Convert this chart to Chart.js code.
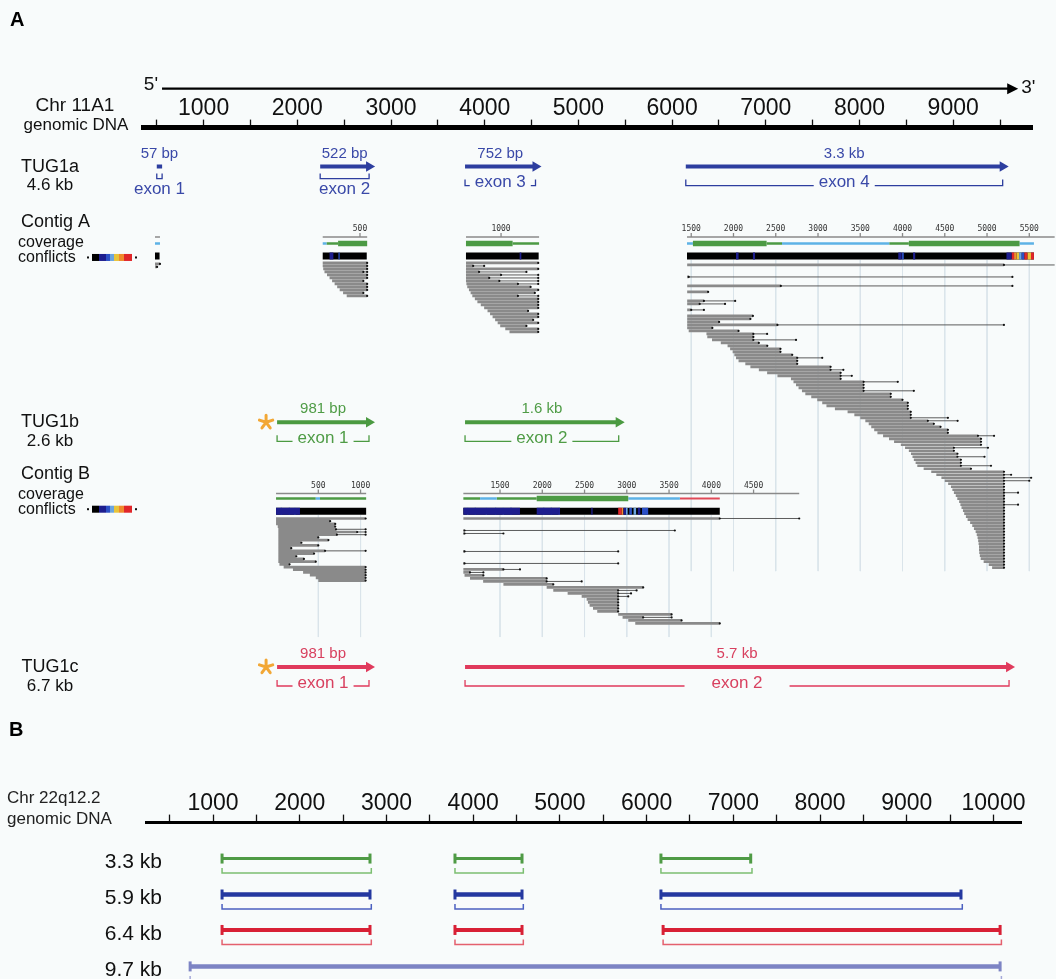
<!DOCTYPE html>
<html><head><meta charset="utf-8">
<script src="https://cdn.jsdelivr.net/npm/chart.js@4.4.1/dist/chart.umd.min.js"></script>
<style>
html,body{margin:0;padding:0;background:#f8fbfb;width:1056px;height:979px;overflow:hidden;}
#wa{position:absolute;left:0;top:0;width:1056px;height:715px;}
#wb{position:absolute;left:0;top:715px;width:1056px;height:264px;}
</style></head><body>
<div id="wa"><canvas id="cA" width="1056" height="715"></canvas></div>
<div id="wb"><canvas id="cB" width="1056" height="264"></canvas></div>
<script>
// ================= DATA =================
// Panel A genomic axis (Chr 11A1), bp
const axisATickMarks = [500,1000,1500,2000,2500,3000,3500,4000,4500,5000,5500,6000,6500,7000,7500,8000,8500,9000,9500];
const axisATicks = [1000,2000,3000,4000,5000,6000,7000,8000,9000];
const strandSpan = [556, 9608];
const isoNames = ['TUG1a','TUG1b','TUG1c'];
const isoLengths = ['4.6 kb','2.6 kb','6.7 kb'];
const tug1aExons = [[500,557],[2244,2766],[3790,4542],[6146,9528]];
const tug1aSizes = ['57 bp','522 bp','752 bp','3.3 kb'];
const tug1bExons = [[1784,2765],[3790,5430]];
const tug1bSizes = ['981 bp','1.6 kb'];
const tug1cExons = [[1784,2765],[3790,9596]];
const tug1cSizes = ['981 bp','5.7 kb'];
const exonNames = ['exon 1','exon 2','exon 3','exon 4'];

// Contigs: [contigStart, contigEnd, genomicAnchor]
const contigABlocks = [[0,59,481],[59,585,2271],[585,1450,3800],[1450,5560,6159]];
const contigBBlocks = [[0,1066,1773],[1066,4100,3772]];
const contigATicks = [500,1000,1500,2000,2500,3000,3500,4000,4500,5000,5500];
const contigBTicks = [500,1000,1500,2000,2500,3000,3500,4000,4500];
const contigAGridTicks = [1500,2000,2500,3000,3500,4000,4500,5000,5500];
const contigBGridTicks = [500,1000,1500,2000,2500,3000,3500,4000];
const contigARuler = [[0,59],[59,585],[585,1450],[1450,5800]];
const contigBRuler = [[0,1066],[1066,5040]];
const coverageA = [[0,59,'low'],[59,104,'low'],[104,241,'mid'],[241,585,'high'],[585,1137,'high'],[1137,1450,'mid'],
  [1450,1520,'low'],[1520,2392,'high'],[2392,2574,'mid'],[2574,3843,'low'],[3843,4075,'mid'],[4075,5385,'high'],[5385,5555,'low']];
const coverageB = [[0,470,'mid'],[470,520,'low'],[520,1066,'mid'],[1066,1264,'mid'],[1264,1461,'low'],[1461,1934,'mid'],
  [1934,3017,'high'],[3017,3628,'low'],[3628,4100,'zero']];
// conflicts: [start, end, level 1..6]
const conflictsA = [[140,185,1],[245,260,2],[1220,1240,1],[2030,2060,1],[2230,2255,1],[3950,3990,1],[3995,4015,2],[4125,4150,1],
  [5230,5290,1],[5290,5320,6],[5320,5350,5],[5350,5380,4],[5380,5410,3],[5410,5440,2],[5440,5480,6],[5480,5520,4],[5520,5555,6]];
const conflictsB = [[0,283,1],[55,70,2],[150,165,2],[215,230,3],[1066,1736,1],[1110,1125,3],[1200,1215,2],[1330,1345,3],
  [1440,1455,2],[1530,1545,3],[1620,1640,2],[1934,2209,1],[2010,2025,2],[2100,2115,2],[2190,2209,3],[2580,2595,1],
  [2898,2940,6],[2940,2960,5],[2960,2990,1],[2990,3010,3],[3030,3060,2],[3080,3110,3],[3130,3160,1],[3180,3253,2]];
// reads: [start, end, mateEnd?]  (contig coordinates, one per row; null = empty row)
const readsA0 = [[0,59],[0,25]];
const readsA1 = [[59,585],[59,585],[65,585],[80,540,585],[110,585],[140,585],[170,540],[200,585],[230,585],[260,585],[300,540],[343,585]];
const readsA2 = [[585,1440],[585,670,800],[585,1440],[585,740,1300],[585,1000,1440],[585,860,1440],[585,980,1440],[590,1200,1440],
  [600,1350],[620,1440],[640,1400],[660,1200,1440],[690,1440],[720,1440],[760,1440],[800,1440],[840,1320],[870,1440],
  [900,1440],[930,1380],[960,1440],[990,1300],[1050,1440],[1100,1440]];
const readsA3 = [[1452,5200,5800],null,null,null,[1452,1470,5300],null,null,[1452,2560,5300],null,[1452,1700],null,null,
  [1452,1650,2020],[1452,1600,1900],null,[1452,1500,1650],null,[1452,2230],[1452,2200],[1452,1830],[1452,2520,5200],
  [1452,1750],[1470,2060],[1680,2235,2398],[1690,2235],[1746,2235,2740],[1850,2300],[1930,2400],[1960,2556],[1990,2556],
  [2010,2695],[2030,2754,3050],[2060,2754],[2140,2754],[2200,3149],[2300,3149,3300],[2398,3268],[2520,3268,3400],
  [2680,3268],[2710,3540,3944],[2740,3540],[2770,3540],[2810,3540,4134],[2850,3861],[2920,3861],[2991,4000],[3050,4063],
  [3100,4063],[3200,4063],[3350,4098],[3430,4098],[3500,4098,4537],[3560,4300,4652],[3600,4371],[3630,4450],[3665,4537],
  [3703,4537],[3770,4893,5083],[3840,4929],[3900,4929],[3980,4929],[4030,4608,5011],[4075,4608],[4100,4650],
  [4118,4650,4970],[4134,4691],[4155,4691],[4175,4691,5047],[4250,4810],[4340,5201],[4400,5201,5285],[4460,5201,5522],
  [4500,5201,5500],[4540,5201],[4573,5201],[4590,5201],[4608,5201,5367],[4630,5201],[4648,5201],[4670,5201],
  [4685,5201,5367],[4698,5201],[4715,5201],[4730,5201],[4750,5201],[4770,5201],[4800,5201],[4825,5201],[4845,5201],
  [4865,5201],[4878,5201],[4888,5201],[4895,5201],[4900,5201],[4905,5201],[4905,5201],[4908,5201],[4915,5201],
  [4925,5201],[4960,5201],[5020,5201],[5060,5201]];
const readsB1 = [[0,1060],[0,640],[0,700],[20,700],[27,710,1060],[27,960,1060],[27,720,1060],[27,500],[27,620],[27,300],
  [27,500],[27,180],[27,580,1060],[27,450],[27,240],[27,330],[27,470],[40,160],[90,1060],[200,1060],[320,1060],
  [400,1060],[470,1060],[500,1060]];
const readsB2 = [[1066,4100,5040],null,null,null,[1066,1080,3568],[1066,1080,1540],null,null,null,null,null,
  [1066,1080,2898],null,null,null,[1066,1080,2898],null,[1066,1540,1736],[1066,1145,1303],[1080,1303],[1145,2052],
  [1300,2052,2466],[1540,2130],[2052,3194],[2130,2898,3116],[2300,2898,3050],[2466,2898,3017],[2525,2898],
  [2540,2898],[2560,2898],[2600,2898],[2650,2898],[2898,3530],[2950,3194,3530],[3017,3648],[3100,4100]];

// Panel B (Chr 22q12.2)
const axisBTickMarks = [500,1000,1500,2000,2500,3000,3500,4000,4500,5000,5500,6000,6500,7000,7500,8000,8500,9000,9500,10000];
const axisBTicks = [1000,2000,3000,4000,5000,6000,7000,8000,9000,10000];
const isoBLabels = ['3.3 kb','5.9 kb','6.4 kb','9.7 kb'];
const isoB1 = [[1104,2810],[3790,4563],[6165,7200]];
const isoB2 = [[1104,2810],[3790,4563],[6165,9625]];
const isoB3 = [[1104,2810],[3790,4563],[6190,10076]];
const isoB4 = [[736,10076]];

// ================= LAYOUT / STYLE =================
const FONT = '"Liberation Sans", Arial, Helvetica, sans-serif';
Chart.defaults.font.family = FONT;
const K = 0.902; // genomic bp per contig bp in the contig viewer
const LA = { strandY: -39, tug: [39, 295, 540], sizeDy: -13, inlineDy: 16, belowDy: 12, belowLabelDy: 23,
  cA: {label: 95, tickLab: 101, ruler: 109.5, cov: 116, conf: 128.5, readsTop: [136.5, 135.5, 135.5, 137.5], step: [3,3,3,3], gridTo: 444},
  cB: {label: 347, tickLab: 358.5, ruler: 366.3, cov: 371.3, conf: 384, readsTop: [391.3, 391.3], step: [2.7, 3], gridTo: 510} };
const LB = { rows: [36, 72, 107.5, 144], bracketDy: 14.5, labelDy: 4 };
const isoColA = [{line:'#2d3e9f', text:'#3a49a8'}, {line:'#4b9a41', text:'#4f9c46'}, {line:'#e03a5c', text:'#d8405f'}];
const isoColB = [{line:'#4f9b45', br:'#7cbf71', w:3}, {line:'#2438a0', br:'#4b60c0', w:4.5}, {line:'#d82035', br:'#e4606e', w:4}, {line:'#7d84c4', br:'#a5a9d9', w:4.5}];
const covStyle = {high:{w:5.5,c:'#4c9a44'}, mid:{w:2.6,c:'#4c9a44'}, low:{w:2.6,c:'#5db2e6'}, zero:{w:2,c:'#e04a58'}};
const confColors = ['#000000','#1d1d8e','#2c50c6','#6ba4df','#e8c43a','#f08a2c','#e0262a'];

// ================= HELPERS =================
function blockOf(blocks, c){ for (const b of blocks) if (c >= b[0] && c < b[1]) return b; return blocks[blocks.length-1]; }
function cg(b, c){ return b[2] + (c - b[0]) * K; }
function segsToPts(segs, blocks, y){ const out=[]; segs.forEach(s=>{ const b=blockOf(blocks,s[0]); const a=cg(b,s[0]), e=cg(b,s[1]); out.push({x:a,y},{x:e,y},{x:e,y:null}); }); return out; }
function lineDS(data, color, width, order, extra){ return Object.assign({type:'line', data, borderColor:color, backgroundColor:color, borderWidth:width, pointRadius:0, spanGaps:false, clip:false, order, tension:0}, extra||{}); }

// ---- build panel A datasets ----
const dsA = [];
(function(){ const pts=[];
  contigAGridTicks.forEach(t=>{ const x=cg(blockOf(contigABlocks,t),t); pts.push({x,y:LA.cA.conf+4},{x,y:LA.cA.gridTo},{x,y:null}); });
  contigBGridTicks.forEach(t=>{ const x=cg(blockOf(contigBBlocks,t),t); pts.push({x,y:LA.cB.conf+4},{x,y:LA.cB.gridTo},{x,y:null}); });
  dsA.push(lineDS(pts,'#dae4ea',1,20)); })();
(function(){ let pts = segsToPts(contigARuler, contigABlocks, LA.cA.ruler).concat(segsToPts(contigBRuler, contigBBlocks, LA.cB.ruler));
  contigATicks.forEach(t=>{ const x=cg(blockOf(contigABlocks,t),t); pts.push({x,y:LA.cA.ruler-4},{x,y:LA.cA.ruler},{x,y:null}); });
  contigBTicks.forEach(t=>{ const x=cg(blockOf(contigBBlocks,t),t); pts.push({x,y:LA.cB.ruler-4},{x,y:LA.cB.ruler},{x,y:null}); });
  dsA.push(lineDS(pts,'#8a8a8a',1.3,19)); })();
['low','mid','high','zero'].forEach(lv=>{
  const a = segsToPts(coverageA.filter(s=>s[2]===lv), contigABlocks, LA.cA.cov).concat(segsToPts(coverageB.filter(s=>s[2]===lv), contigBBlocks, LA.cB.cov));
  dsA.push(lineDS(a, covStyle[lv].c, covStyle[lv].w, lv==='high'?14:15)); });
dsA.push(lineDS(segsToPts(contigABlocks.map(b=>[b[0],b[1]-5]), contigABlocks, LA.cA.conf).concat(segsToPts(contigBBlocks.map(b=>[b[0],b[1]]), contigBBlocks, LA.cB.conf)), confColors[0], 7, 13));
for (let lv=1; lv<=6; lv++){
  const a = segsToPts(conflictsA.filter(s=>s[2]===lv), contigABlocks, LA.cA.conf).concat(segsToPts(conflictsB.filter(s=>s[2]===lv), contigBBlocks, LA.cB.conf));
  dsA.push(lineDS(a, confColors[lv], 7, 12)); }
(function(){ const thick=[], thin=[], dots=[];
  function add(list, blocks, top, step){ list.forEach((r,i)=>{ if(!r) return; const y=top+i*step; const b=blockOf(blocks,r[0]);
    const xs=cg(b,r[0]), xe=cg(b,r[1]); thick.push({x:xs,y},{x:xe,y},{x:xe,y:null}); dots.push({x:xe,y});
    if (r.length>2){ const xm=cg(b,r[2]); thin.push({x:xe,y},{x:xm,y},{x:xm,y:null}); dots.push({x:xm,y}); } }); }
  add(readsA0, contigABlocks, LA.cA.readsTop[0], LA.cA.step[0]);
  add(readsA1, contigABlocks, LA.cA.readsTop[1], LA.cA.step[1]);
  add(readsA2, contigABlocks, LA.cA.readsTop[2], LA.cA.step[2]);
  add(readsA3, contigABlocks, LA.cA.readsTop[3], LA.cA.step[3]);
  add(readsB1, contigBBlocks, LA.cB.readsTop[0], LA.cB.step[0]);
  add(readsB2, contigBBlocks, LA.cB.readsTop[1], LA.cB.step[1]);
  dsA.push(lineDS(thin,'#4a4a4a',0.9,11));
  dsA.push(lineDS(thick,'#8a8a8a',2.7,10));
  dsA.push({type:'scatter', data:dots, pointRadius:1.1, pointBackgroundColor:'#111', pointBorderWidth:0, clip:false, order:9.5, showLine:false});
})();
dsA.push(lineDS([{x:strandSpan[0],y:LA.strandY},{x:strandSpan[1],y:LA.strandY}], '#000', 2.2, 2));
[tug1aExons, tug1bExons, tug1cExons].forEach((ex,i)=>{ const y=LA.tug[i]; const pts=[];
  ex.forEach(e=>{ pts.push({x:e[0],y},{x:e[1],y,head:(e[1]-e[0])>200},{x:e[1],y:null}); });
  dsA.push(lineDS(pts, isoColA[i].line, 4, 1, {pointStyle:'triangle', rotation:90, pointRadius:c=>c.raw&&c.raw.head?6:0, pointBackgroundColor:isoColA[i].line, pointBorderWidth:0}));
});

function txt(ctx, s, x, y, font, color, align, base){ ctx.font=font; ctx.fillStyle=color; ctx.textAlign=align||'center'; ctx.textBaseline=base||'middle'; ctx.fillText(s,x,y); }

const plugA = { id:'panelA', afterDatasetsDraw(chart){
  const ctx=chart.ctx, xs=chart.scales.x, ys=chart.scales.y;
  const X=v=>xs.getPixelForValue(v), Y=v=>ys.getPixelForValue(v);
  ctx.save();
  txt(ctx,'A',10,Y(-107),'bold 20px '+FONT,'#000','left');
  const hx=X(strandSpan[1]), hy=Y(LA.strandY);
  ctx.fillStyle='#000'; ctx.beginPath(); ctx.moveTo(hx+8,hy); ctx.lineTo(hx-3,hy-5.5); ctx.lineTo(hx-3,hy+5.5); ctx.closePath(); ctx.fill();
  txt(ctx,"5'",X(strandSpan[0])-4,Y(LA.strandY)-4,'19px '+FONT,'#111','right');
  txt(ctx,"3'",X(strandSpan[1])+11,Y(LA.strandY)-1,'19px '+FONT,'#111','left');
  txt(ctx,'Chr 11A1',75,Y(-22),'19px '+FONT,'#111');
  txt(ctx,'genomic DNA',76,Y(-2),'17px '+FONT,'#111');
  isoNames.forEach((n,i)=>{ txt(ctx,n,50,Y(LA.tug[i]),'18px '+FONT,'#111'); txt(ctx,isoLengths[i],50,Y(LA.tug[i]+19),'17px '+FONT,'#111'); });
  [['Contig A',LA.cA],['Contig B',LA.cB]].forEach(([n,c])=>{
    txt(ctx,n,21,Y(c.label),'18px '+FONT,'#111','left');
    txt(ctx,'coverage',18,Y(c.label+20),'16px '+FONT,'#111','left');
    txt(ctx,'conflicts',18,Y(c.label+35),'16px '+FONT,'#111','left');
    const yy=Y(c.label+35)-3.5;
    ctx.fillStyle='#111'; ctx.fillRect(87,yy+2.5,2,2);
    const w=[7,7,4,4,5,5,8]; let x=92; w.forEach((ww,k)=>{ ctx.fillStyle=confColors[k]; ctx.fillRect(x,yy,ww,7); x+=ww; });
    ctx.fillStyle='#111'; ctx.fillRect(x+3,yy+2.5,2,2);
  });
  contigATicks.forEach(t=>txt(ctx,String(t),X(cg(blockOf(contigABlocks,t),t)),Y(LA.cA.tickLab),'8px "DejaVu Sans Mono", monospace','#333'));
  contigBTicks.forEach(t=>txt(ctx,String(t),X(cg(blockOf(contigBBlocks,t),t)),Y(LA.cB.tickLab),'8px "DejaVu Sans Mono", monospace','#333'));
  const sets=[[tug1aExons,tug1aSizes],[tug1bExons,tug1bSizes],[tug1cExons,tug1cSizes]];
  sets.forEach(([ex,sz],i)=>{ const col=isoColA[i]; const ya=LA.tug[i];
    ex.forEach((e,j)=>{ const x1=X(e[0]), x2=X(e[1]), cx=(x1+x2)/2;
      txt(ctx,sz[j],cx,Y(ya+LA.sizeDy),'15px '+FONT,col.text);
      ctx.font='17px '+FONT; const tw=ctx.measureText(exonNames[j]).width;
      ctx.strokeStyle=col.line; ctx.lineWidth=1.3;
      if (x2-x1 >= tw+8){ const yb=Y(ya+LA.inlineDy)+3; const g=tw/2+(x2-x1>500?27:5);
        ctx.beginPath(); ctx.moveTo(x1,yb-6); ctx.lineTo(x1,yb); ctx.lineTo(Math.max(x1,cx-g),yb);
        ctx.moveTo(Math.min(x2,cx+g),yb); ctx.lineTo(x2,yb); ctx.lineTo(x2,yb-6); ctx.stroke();
        txt(ctx,exonNames[j],cx,Y(ya+LA.inlineDy),'17px '+FONT,col.text);
      } else { const yb=Y(ya+LA.belowDy);
        ctx.beginPath(); ctx.moveTo(x1,yb-5); ctx.lineTo(x1,yb); ctx.lineTo(x2,yb); ctx.lineTo(x2,yb-5); ctx.stroke();
        txt(ctx,exonNames[j],cx,Y(ya+LA.belowLabelDy),'17px '+FONT,col.text);
      }
    });
    if (i>0){ const sx=X(ex[0][0])-11, sy=Y(ya); ctx.strokeStyle='#f2a735'; ctx.lineWidth=3; ctx.lineCap='round'; ctx.beginPath();
      for (let k=0;k<5;k++){ const a=-Math.PI/2+k*2*Math.PI/5; ctx.moveTo(sx,sy); ctx.lineTo(sx+Math.cos(a)*7,sy+Math.sin(a)*7); } ctx.stroke(); ctx.lineCap='butt'; }
  });
  ctx.restore();
}};

function axisOpts(min, max, marks, labels, bw){ return {type:'linear', position:'top', min, max,
  afterBuildTicks: s=>{ s.ticks = marks.map(v=>({value:v})); },
  ticks:{autoSkip:false, maxRotation:0, minRotation:0, padding:-3, font:{size:23, family:FONT}, color:'#111',
    callback:v=>labels.includes(v)?String(v):''},
  grid:{drawOnChartArea:false, drawTicks:true, tickLength:8, tickWidth:1.3, tickColor:'#111'},
  border:{display:true, color:'#000', width:bw}}; }

new Chart(document.getElementById('cA'), {
  type:'line', data:{datasets:dsA}, plugins:[plugA],
  options:{ responsive:false, animation:false, events:[], layout:{padding:{left:143,right:24,top:98,bottom:8}, autoPadding:false},
    plugins:{legend:{display:false}, tooltip:{enabled:false}},
    scales:{ x: axisOpts(353, 9841, axisATickMarks, axisATicks, 5),
      y:{type:'linear', display:false, reverse:true, min:0, max:580} } }
});

// ---- Panel B ----
const dsB = [];
[isoB1, isoB2, isoB3, isoB4].forEach((segs,i)=>{ const y=LB.rows[i], c=isoColB[i]; const pts=[], br=[];
  segs.forEach(s=>{ pts.push({x:s[0],y,cap:true},{x:s[1],y,cap:true},{x:s[1],y:null});
    const yb=y+LB.bracketDy; br.push({x:s[0],y:yb-5},{x:s[0],y:yb},{x:s[1]+15,y:yb},{x:s[1]+15,y:yb-5},{x:s[1]+15,y:null}); });
  dsB.push(lineDS(pts, c.line, c.w, 1, {pointStyle:'line', rotation:90, pointRadius:cx=>cx.raw&&cx.raw.cap?5:0, pointBorderColor:c.line, pointBorderWidth:3}));
  dsB.push(lineDS(br, c.br, 1.5, 2));
});
const plugB = { id:'panelB', afterDatasetsDraw(chart){
  const ctx=chart.ctx, ys=chart.scales.y; const Y=v=>ys.getPixelForValue(v);
  ctx.save();
  txt(ctx,'B',9,Y(-92.6),'bold 20px '+FONT,'#000','left');
  txt(ctx,'Chr 22q12.2',7,Y(-24),'17px '+FONT,'#222','left');
  txt(ctx,'genomic DNA',7,Y(-3),'17px '+FONT,'#222','left');
  isoBLabels.forEach((s,i)=>txt(ctx,s,162,Y(LB.rows[i]+LB.labelDy),'21px '+FONT,'#111','right'));
  ctx.restore();
}};
new Chart(document.getElementById('cB'), {
  type:'line', data:{datasets:dsB}, plugins:[plugB],
  options:{ responsive:false, animation:false, events:[], layout:{padding:{left:146,right:35,top:78,bottom:0}, autoPadding:false},
    plugins:{legend:{display:false}, tooltip:{enabled:false}},
    scales:{ x: axisOpts(227, 10317, axisBTickMarks, axisBTicks, 3),
      y:{type:'linear', display:false, reverse:true, min:0, max:156.6} } }
});
</script></body></html>
